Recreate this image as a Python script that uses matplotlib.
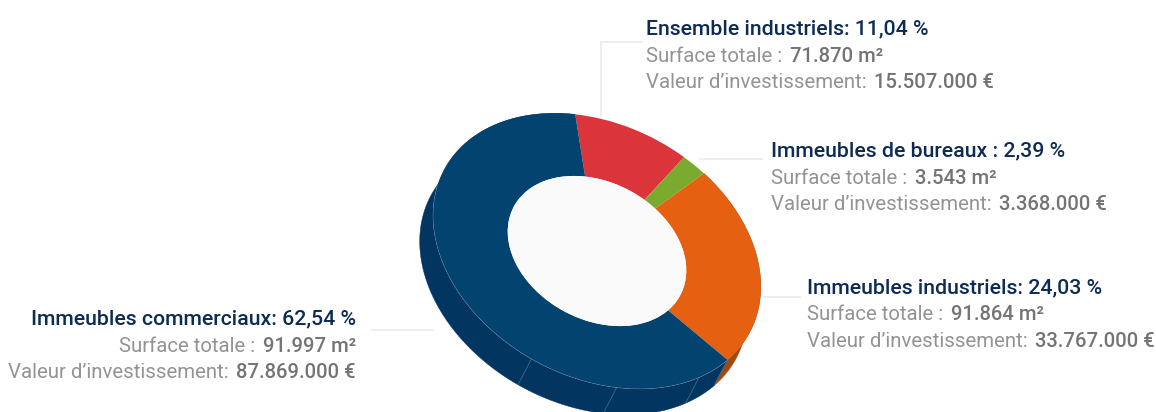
import matplotlib as mpl

mpl.use("Agg")

import matplotlib.pyplot as plt
import numpy as np
from matplotlib.transforms import Affine2D

CATEGORIES = ["Ensemble industriels", "Immeubles de bureaux ", "Immeubles industriels", "Immeubles commerciaux"]
PERCENT = [11.04, 2.39, 24.03, 62.54]
PERCENT_LABELS = ["11,04 %", "2,39 %", "24,03 %", "62,54 %"]
SURFACE = ["71.870 m²", "3.543 m²", "91.864 m²", "91.997 m²"]
INVEST = ["15.507.000 €", "3.368.000 €", "33.767.000 €", "87.869.000 €"]
COLORS = ["#dc343b", "#7aab2e", "#e66012", "#024370"]
WALL_COLORS = [None, None, "#a04a12", "#023661"]

W, H = 1156, 412
CENTER = (597, 251)
SEMI = (173, 126)
TILT = 28
START = -118.8
HOLE = 0.545
DEPTH = (-13.5, 26)
SEAMS = [30.3, 61.9, 92.4]

GREY = "#939393"
DARK_GREY = "#747474"
NAVY = "#0d2c54"
LEADER = "#e9e9e9"
FONT = "Roboto"


def ellipse_xy(angle_deg):
    t = np.radians(angle_deg)
    pts = np.column_stack([np.cos(t), np.sin(t)])
    return Affine2D().scale(*SEMI).rotate_deg(TILT).translate(*CENTER).transform(pts)


def draw_wall(ax, a1, a2, color):
    top = ellipse_xy(np.linspace(a1, a2, 200))
    low = top + np.array(DEPTH)
    poly = np.vstack([top, low[::-1]])
    ax.fill(poly[:, 0], poly[:, 1], color=color, lw=0.3, zorder=1)


def draw_runs(ax, x, y, runs, align="left"):
    """runs: (text, color, weight, size), placed one after the other on a baseline"""
    renderer = ax.figure.canvas.get_renderer()
    seq = runs if align == "left" else runs[::-1]
    for text, color, weight, size in seq:
        t = ax.text(x, y, text, color=color, fontweight=weight, fontsize=size, family=FONT,
                    ha=align, va="baseline", zorder=5)
        width = t.get_window_extent(renderer).width
        gap = 7.5
        x = x + width + gap if align == "left" else x - width - gap


def draw_label(ax, x, y, i, align="left"):
    draw_runs(ax, x, y, [(f"{CATEGORIES[i]}: {PERCENT_LABELS[i]}", NAVY, "medium", 15.3)], align)
    draw_runs(ax, x, y + 27, [("Surface totale :", GREY, "regular", 14.7), (SURFACE[i], DARK_GREY, "medium", 14.6)], align)
    draw_runs(ax, x, y + 53.5, [("Valeur d’investissement:", GREY, "regular", 14.7), (INVEST[i], DARK_GREY, "medium", 14.6)], align)


fig = plt.figure(figsize=(W / 100, H / 100), dpi=100, facecolor="white")
ax = fig.add_axes([0, 0, 1, 1])

wedges, _ = ax.pie(PERCENT, colors=COLORS, startangle=START, radius=1, frame=True,
                   wedgeprops=dict(width=1 - HOLE, linewidth=0))
tilt = Affine2D().scale(*SEMI).rotate_deg(TILT).translate(*CENTER) + ax.transData
for w in wedges:
    w.set_transform(tilt)
    w.set_zorder(3)
hole = plt.Circle((0, 0), HOLE, fc="#fafafa", ec="none", zorder=4)
ax.add_patch(hole)
hole.set_transform(tilt)

ax.set_aspect("auto")
ax.set_xlim(0, W)
ax.set_ylim(H, 0)
ax.axis("off")

# side wall, only orange and blue are visible from the front
edges = START + np.cumsum([0] + PERCENT) * 3.6
draw_wall(ax, edges[2], edges[3], WALL_COLORS[2])
draw_wall(ax, edges[3], edges[4], WALL_COLORS[3])

for a in [edges[3]] + SEAMS:
    p = ellipse_xy(np.array([a]))[0]
    ax.plot([p[0], p[0] + DEPTH[0]], [p[1], p[1] + DEPTH[1]], color="#4f6f8c", lw=0.5, zorder=2)
rim = ellipse_xy(np.linspace(edges[3], 172, 200))
ax.plot(rim[:, 0], rim[:, 1], color="#9db3c6", lw=0.5, zorder=2.5)

# leader lines
for xs, ys in [([642, 601, 601], [42, 42, 116]), ([700, 762], [159, 159]),
               ([764, 800], [297, 297]), ([372, 433], [330, 330])]:
    ax.plot(xs, ys, color=LEADER, lw=1.1, zorder=0, solid_joinstyle="miter")

fig.canvas.draw()
draw_label(ax, 646, 34.5, 0)
draw_label(ax, 771, 156.5, 1)
draw_label(ax, 807, 293.5, 2)
draw_label(ax, 356, 324.5, 3, align="right")

fig.savefig("out.png", dpi=100)
